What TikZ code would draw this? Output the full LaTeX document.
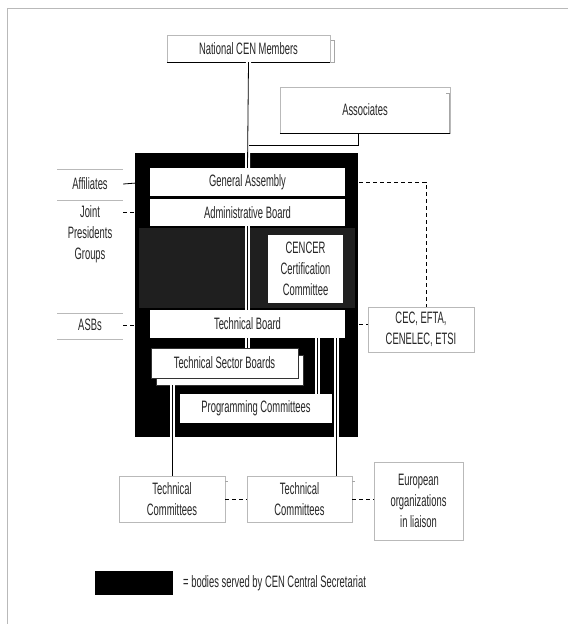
\documentclass[tikz,border=0pt]{standalone}
\usepackage{fontspec}
\setmainfont{Liberation Sans}[FakeStretch=0.57]
\usetikzlibrary{calc}
\tikzstyle{body} = [fill=white, inner sep=1pt, align=center]
\tikzstyle{member} = [draw=gray!55, fill=white, line width=0.4pt, inner sep=1pt,
  align=center]
\tikzstyle{sidetext} = [minimum width=66pt, inner sep=1pt, align=center]
\tikzstyle{sepline} = [gray!55, line width=0.4pt]
\tikzstyle{tie} = [line width=0.8pt]
\tikzstyle{link} = [line width=0.8pt, preaction={draw=white, line width=5pt}]
\tikzstyle{liaison} = [line width=0.8pt, dash pattern=on 4pt off 3pt]
\begin{document}
\begin{tikzpicture}[x=1pt, y=-1pt,
    every node/.style={font=\fontsize{16.5}{21}\selectfont, text=black!85}]
    \useasboundingbox (0,0) rectangle (568,624);
    \draw[sepline] (568,8) -- (7,8) -- (7,624);

    \node[member, minimum width=163pt, minimum height=27pt] (national)
        at (248.5,48.5) {National CEN Members};
    \node[member, minimum width=170pt, minimum height=46pt] (assoc)
        at (365,110) {Associates};
    \draw[line width=1.2pt] (national.south west) -- (national.south east);
    \draw[line width=1.2pt] (assoc.south west) -- (assoc.south east);
    \draw[gray!70] ([xshift=1pt,yshift=-5pt]national.north east) -- ++(3,0)
        -- ([xshift=4pt]national.south east) -- ++(-3,0);
    \draw[gray!70] ([xshift=-4pt,yshift=-6pt]assoc.north east) -- ++(3,0)
        -- ([xshift=-1pt]assoc.south east);

    \node[fill=black, minimum width=223pt, minimum height=284pt, inner sep=0]
        (cen) at (246.5,295) {};
    \fill[black!88] (139,228) rectangle (355,308);
    \node[body, minimum width=195pt, minimum height=28pt] (ga)
        at (247.5,182) {General Assembly};
    \node[body, minimum width=195pt, minimum height=27pt] (admin)
        at (247.5,212.5) {Administrative Board};
    \node[body, minimum width=75pt, minimum height=68pt] (cencer)
        at (305.5,269) {CENCER\\Certification\\Committee};
    \node[body, minimum width=195pt, minimum height=28pt] (tb)
        at (247.5,324) {Technical Board};
    \node[body, draw=black!80, minimum width=147pt, minimum height=30pt]
        (tsbback) at (229.5,370) {};
    \node[body, draw=black!80, minimum width=147pt, minimum height=30pt]
        (tsb) at (224.5,363) {Technical Sector Boards};
    \node[body, minimum width=152pt, minimum height=29pt] (pc)
        at (256,408.5) {Programming Committees};

    \node[sidetext] (affil) at (90,184) {Affiliates};
    \node[sidetext] (jpg) at (90,234) {Joint\\Presidents\\Groups};
    \node[sidetext] (asbs) at (90,325) {ASBs};
    \foreach \y in {169,200,313,339}
        \draw[sepline] (57,\y) -- (123,\y);

    \node[member, minimum width=106pt, minimum height=45pt] (cec)
        at (421,329.5) {CEC, EFTA,\\CENELEC, ETSI};
    \node[member, minimum width=106pt, minimum height=46pt] (tc1)
        at (172,499) {Technical\\Committees};
    \node[member, minimum width=105pt, minimum height=46pt] (tc2)
        at (299.5,499) {Technical\\Committees};
    \node[member, minimum width=89pt, minimum height=78pt] (euro)
        at (418.5,501) {European\\organizations\\in liaison};
    \draw[gray!70] ([yshift=-5pt]tc1.north east) -- ++(3,0);
    \draw[gray!70] ([yshift=-5pt]tc2.north east) -- ++(3,0);

    \coordinate (join) at (248.5,145);
    \draw[link] (national.south) -- (ga.north);
    \draw[link] (admin.south) -- (tb.north);
    \draw[link] (tb.south) -- (tsb.north -| tb.south);
    \draw[link] (tc1.north |- tsbback.south) -- (tc1.north);
    \draw[link] ([xshift=61pt]pc.north |- tb.south) -- ([xshift=61pt]pc.north);
    \draw[link] ([xshift=37pt]tc2.north |- tb.south) -- ([xshift=37pt]tc2.north);
    \draw[tie] (assoc.south -| cen.east) |- (join);

    \draw[tie] (affil.east) -- (ga.west);
    \draw[liaison] (admin.west -| jpg.east) -- (admin.west);
    \draw[liaison] (asbs.east) -- (asbs.east -| tb.west);
    \draw[liaison] (ga.east) -| ([xshift=5pt]cec.north);
    \draw[liaison] (tb.east) -- (tb.east -| cec.west);
    \draw[liaison] (tc1.east) -- (tc2.west);
    \draw[liaison] (tc2.east) -- (tc2.east -| euro.west);

    \node[fill=black, minimum width=78pt, minimum height=24pt, inner sep=0]
        (key) at (134,583) {};
    \node[anchor=west, inner sep=0] (keytext) at (183,583)
        {= bodies served by CEN Central Secretariat};
\end{tikzpicture}
\end{document}
